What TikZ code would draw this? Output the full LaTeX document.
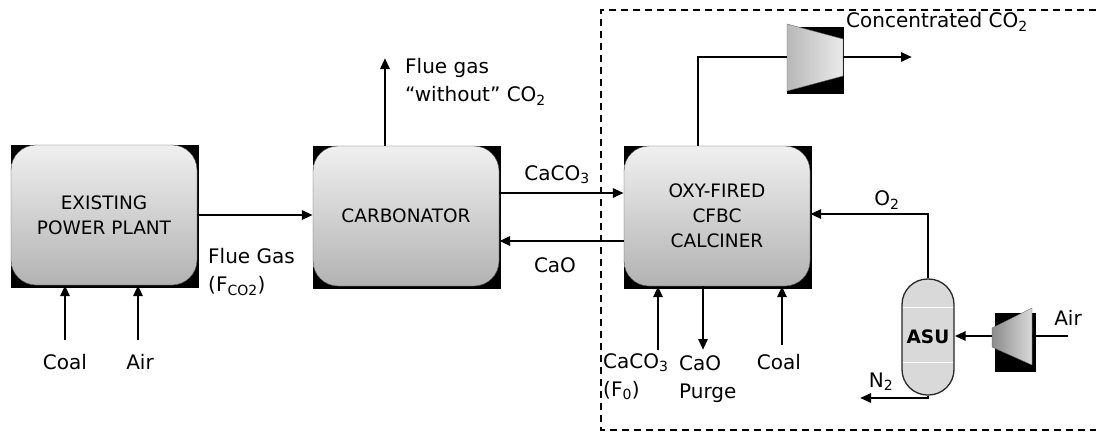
\documentclass[tikz,border=0pt]{standalone}
\usepackage{fontspec}
\setmainfont{DejaVu Sans}
\usetikzlibrary{arrows.meta,backgrounds}
\tikzset{
  unit/.style={draw=black!70, rounded corners=25pt, top color=black!6, bottom color=black!30,
    minimum width=186pt, minimum height=140pt, align=center, inner sep=0pt},
  flow/.style={line width=2.8pt, -{Triangle[length=11pt,width=9pt]}},
  pipe/.style={line width=2.8pt},
  lbl/.style={inner sep=0pt, align=left, font=\fontsize{20}{28}\selectfont},
}
\begin{document}
\begin{tikzpicture}[x=1pt,y=-1pt,font=\fontsize{18.5}{25}\selectfont]
\useasboundingbox (0,0) rectangle (1096,437);
% process units
\node[unit] (plant) at (104,215) {EXISTING\\POWER PLANT};
\node[unit] (carb) at (406,216) {CARBONATOR};
\node[unit] (calc) at (717,216) {OXY-FIRED\\CFBC\\CALCINER};
\begin{scope}[on background layer]
\fill (plant.north west) rectangle ([shift={(2,3)}]plant.south east);
\fill (carb.north west) rectangle ([shift={(2,3)}]carb.south east);
\fill (calc.north west) rectangle ([shift={(2,3)}]calc.south east);
\end{scope}
% CO2 compressor
\fill (787,27) rectangle (844,94);
\draw[black!60, left color=black!28, right color=black!8] (787,24) -- (843,39) -- (843,76) -- (787,91) -- cycle;
\coordinate (c1in) at (787,57);
\coordinate (c1out) at (843,57);
\coordinate (co2) at (912,57);
% ASU
\node[draw=black!85, line width=1.3pt, fill=black!15, rounded corners=25.5pt, minimum width=52pt,
  minimum height=116pt, inner sep=0pt, font=\fontsize{18.5}{25}\selectfont\bfseries] (asu) at (928,337) {ASU};
\draw[white, line width=1pt] ([xshift=1.5,yshift=-29]asu.north west) -- ([xshift=-1.5,yshift=-29]asu.north east);
\draw[white, line width=1pt] ([xshift=1.5,yshift=33]asu.south west) -- ([xshift=-1.5,yshift=33]asu.south east);
% air compressor
\fill (995,313) rectangle (1036,372);
\draw[black!60, left color=black!45, right color=black!15] (992,328) -- (1032,308) -- (1032,365) -- (992,347) -- cycle;
\coordinate (c2in) at (1032,336);
\coordinate (c2out) at (992,336);
\coordinate (airin) at (1068,336);
% boundary of the calciner side
\draw[line width=1.3pt, dash pattern=on 7pt off 5pt] (1096,10) -| (601,430) -- (1096,430);
% streams
\draw[flow] (plant.east) -- (plant.east -| carb.west);
\coordinate (fg) at (385,58);
\draw[flow] (carb.north -| fg) -- (fg);
\draw[flow] ([yshift=23]carb.east) -- ([yshift=23]calc.west);
\draw[flow] ([yshift=-25]calc.west) -- ([yshift=-25]carb.east);
\draw[pipe] ([xshift=-19]calc.north) |- (c1in);
\draw[flow] (c1out) -- (co2);
\draw[flow] (asu.north) |- ([yshift=2]calc.east);
\draw[pipe] (airin) -- (c2in);
\draw[flow] (c2out) -- (c2out -| asu.east);
\coordinate (n2) at (860,398);
\draw[flow] (asu.south) |- (n2);
\coordinate (coal1) at (65,340);
\coordinate (air1) at (138,340);
\draw[flow] (coal1) -- (coal1 |- plant.south);
\draw[flow] (air1) -- (air1 |- plant.south);
\coordinate (lime) at (658,350);
\coordinate (purge) at (703,350);
\coordinate (coal2) at (782,345);
\draw[flow] (lime) -- (lime |- calc.south);
\draw[flow] (purge |- calc.south) -- (purge);
\draw[flow] (coal2) -- (coal2 |- calc.south);
% labels
\node[lbl, anchor=west] (fgl) at (405,82) {Flue gas\\“without” CO\textsubscript{2}};
\node[lbl] (cacol) at (557,175) {CaCO\textsubscript{3}};
\node[lbl] (caol) at (555,265) {CaO};
\node[lbl, anchor=west] (fluel) at (208,272) {Flue Gas\\(F\textsubscript{CO2})};
\node[lbl] (coall) at (65,362) {Coal};
\node[lbl] (airl) at (140,362) {Air};
\node[lbl, anchor=west] (co2l) at (846,22) {Concentrated CO\textsubscript{2}};
\node[lbl] (o2l) at (887,200) {O\textsubscript{2}};
\node[lbl] (air2l) at (1068,318) {Air};
\node[lbl] (n2l) at (881,382) {N\textsubscript{2}};
\node[lbl, anchor=west] (limel) at (603,377) {CaCO\textsubscript{3}\\(F\textsubscript{0})};
\node[lbl, anchor=west] (purgel) at (679,379) {CaO\\Purge};
\node[lbl] (coal2l) at (779,362) {Coal};
\end{tikzpicture}
\end{document}
